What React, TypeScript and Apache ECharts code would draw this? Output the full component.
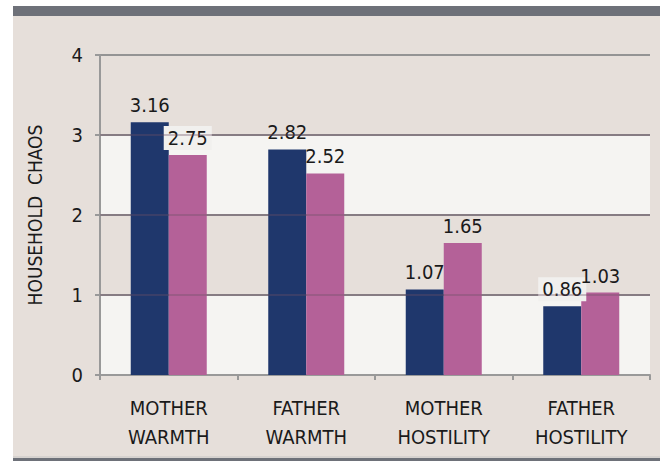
import React, { useEffect, useRef } from "react";
import * as echarts from "echarts";

const categories = ["MOTHER\nWARMTH", "FATHER\nWARMTH", "MOTHER\nHOSTILITY", "FATHER\nHOSTILITY"];
const seriesNavy = [3.16, 2.82, 1.07, 0.86];
const seriesPink = [2.75, 2.52, 1.65, 1.03];
const yMin = 0;
const yMax = 4;
const yInterval = 1;
const gridLineValues = [1, 2, 3];
const yTitle = "HOUSEHOLD  CHAOS";

const FONT = "'Liberation Sans Narrow', 'Arial Narrow', 'DejaVu Sans Condensed', sans-serif";
const LABEL_BG_IDX_NAVY = [3];
const LABEL_BG_IDX_PINK = [0];

export default function App() {
  const ref = useRef<HTMLDivElement>(null);
  useEffect(() => {
    if (!ref.current) return;
    const chart = echarts.init(ref.current, undefined, { renderer: "svg" });
    const mkData = (vals: number[], bgIdx: number[]) =>
      vals.map((v, i) =>
        bgIdx.includes(i)
          ? { value: v, label: { backgroundColor: "#f1f0ee" } }
          : { value: v }
      );
    const labelCfg = {
      show: true,
      position: "top",
      distance: 5,
      fontFamily: FONT,
      fontSize: 20,
      color: "#1a1a1a",
      padding: [2, 4],
      formatter: (p: any) => Number(p.value).toFixed(2),
    };
    chart.setOption({
      animation: false,
      backgroundColor: "transparent",
      grid: { left: 100, right: 10, top: 55, bottom: 86 },
      xAxis: {
        type: "category",
        data: categories,
        axisLine: { show: true, lineStyle: { color: "#999999", width: 2 } },
        axisTick: { show: true, length: 5, lineStyle: { color: "#999999", width: 2 } },
        axisLabel: {
          fontFamily: FONT,
          fontSize: 20,
          color: "#1a1a1a",
          lineHeight: 29,
          margin: 18,
          interval: 0,
        },
      },
      yAxis: {
        type: "value",
        min: yMin,
        max: yMax,
        interval: yInterval,
        name: yTitle,
        nameLocation: "middle",
        nameRotate: 90,
        nameGap: 56,
        nameTextStyle: { fontFamily: FONT, fontSize: 19, color: "#1a1a1a" },
        axisLine: { show: true, lineStyle: { color: "#999999", width: 2 } },
        axisTick: { show: true, length: 5, lineStyle: { color: "#999999", width: 2 } },
        axisLabel: { fontFamily: FONT, fontSize: 20, color: "#1a1a1a", margin: 17 },
        splitLine: { show: true, lineStyle: { color: "#949494", width: 2 } },
        splitArea: { show: true, areaStyle: { color: ["#f5f4f2", "rgba(0,0,0,0)"] } },
      },
      series: [
        {
          name: "Navy",
          type: "bar",
          data: mkData(seriesNavy, LABEL_BG_IDX_NAVY),
          barWidth: 38,
          barGap: "0%",
          itemStyle: { color: "#1f376c" },
          label: labelCfg,
        },
        {
          name: "Pink",
          type: "bar",
          data: mkData(seriesPink, LABEL_BG_IDX_PINK),
          barWidth: 38,
          barGap: "0%",
          itemStyle: { color: "#b46198" },
          label: labelCfg,
          markLine: {
            silent: true,
            symbol: "none",
            label: { show: false },
            lineStyle: { color: "rgba(110,80,100,0.35)", width: 2, type: "solid" },
            data: gridLineValues.map((v) => ({ yAxis: v })),
          },
        },
      ],
    });
    return () => chart.dispose();
  }, []);

  return (
    <div style={{ position: "absolute", left: 0, top: 0, width: 660, height: 461, background: "#ffffff", overflow: "hidden" }}>
      <div style={{ position: "absolute", left: 13, top: 6, width: 647, height: 455, background: "#e6dfda" }} />
      <div style={{ position: "absolute", left: 13, top: 6, width: 647, height: 10, background: "#6e7179" }} />
      <div style={{ position: "absolute", left: 13, top: 456, width: 647, height: 2, background: "#d6d2cf" }} />
      <div style={{ position: "absolute", left: 13, top: 458, width: 647, height: 3, background: "#6e7179" }} />
      <div ref={ref} style={{ position: "absolute", left: 0, top: 0, width: 660, height: 461 }} />
    </div>
  );
}
